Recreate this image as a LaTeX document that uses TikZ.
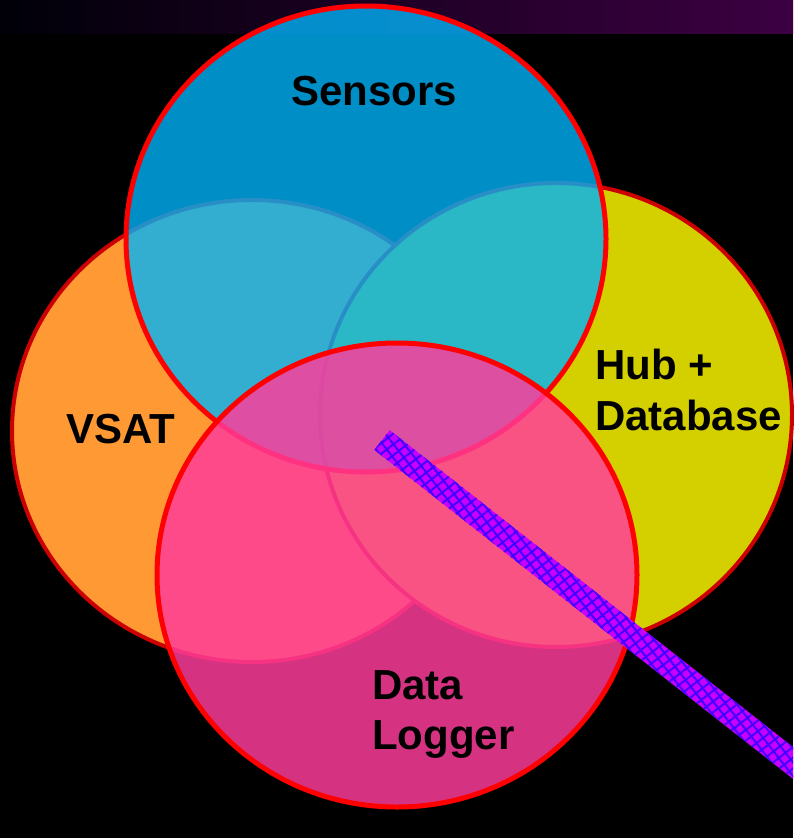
\documentclass[tikz,border=0pt]{standalone}
\usepackage{fontspec}
\setmainfont{Liberation Sans}
\usetikzlibrary{calc,patterns.meta}
\definecolor{darkrim}{RGB}{204,0,0}
\definecolor{brightrim}{RGB}{255,0,0}
\definecolor{vsatfill}{RGB}{255,153,51}
\definecolor{hubfill}{RGB}{212,208,0}
\definecolor{sensfill}{RGB}{0,178,248}
\definecolor{logfill}{RGB}{255,60,155}
\definecolor{barfill}{RGB}{200,0,255}
\definecolor{barhatch}{RGB}{70,0,255}
\definecolor{topleft}{RGB}{0,0,8}
\definecolor{topmid}{RGB}{2,0,52}
\definecolor{topright}{RGB}{60,0,66}
\tikzset{
  backset/.style={draw=darkrim, line width=4pt},
  frontset/.style={draw=brightrim, line width=5pt},
  setlabel/.style={font=\fontsize{42}{48}\selectfont\bfseries, text=black,
    inner sep=0pt, anchor=base west},
  pointer/.style={preaction={fill=barfill},
    pattern={Hatch[angle=38, distance=8.5pt, line width=2pt]},
    pattern color=barhatch}
}
\begin{document}
\begin{tikzpicture}[x=1pt, y=-1pt]
  \useasboundingbox (0,0) rectangle (793,838);
  \fill[black] (0,0) rectangle (793,838);
  % title strip
  \shade[left color=topleft, middle color=topmid, right color=topright]
    (0,0) rectangle (793,33);

  % four overlapping sets
  \path[backset, fill=vsatfill] (252,431) ellipse [x radius=240pt, y radius=231pt];
  \path[backset, fill=hubfill] (556,415) ellipse [x radius=236pt, y radius=232pt];
  \path[frontset, fill=sensfill, fill opacity=0.8] (366,239) ellipse [x radius=240pt, y radius=233pt];
  \path[frontset, fill=logfill, fill opacity=0.84] (397,575) ellipse [x radius=240pt, y radius=232pt];

  % pointer bar
  \coordinate (barA) at (382,440);
  \coordinate (barB) at (830,792);
  \begin{scope}
    \clip (0,0) rectangle (793,838);
    \path[pointer]
      ($(barA)!12.5pt!90:(barB)$) -- ($(barB)!12.5pt!-90:(barA)$)
      -- ($(barB)!12.5pt!90:(barA)$) -- ($(barA)!12.5pt!-90:(barB)$) -- cycle;
  \end{scope}

  % labels
  \node[setlabel] (sensors) at (291,105) {Sensors};
  \node[setlabel] (vsat) at (66,443) {VSAT};
  \node[setlabel] (hubA) at (595,379) {Hub +};
  \node[setlabel] (hubB) at (595,430) {Database};
  \node[setlabel] (logA) at (372,699) {Data};
  \node[setlabel] (logB) at (372,749) {Logger};
\end{tikzpicture}
\end{document}
